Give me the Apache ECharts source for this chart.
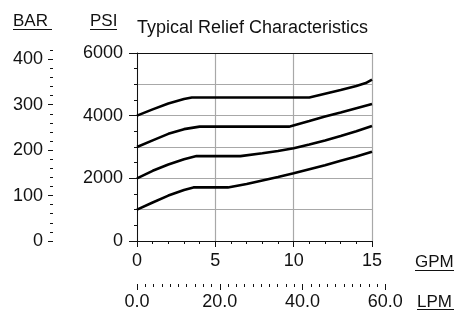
<!DOCTYPE html>
<html>
<head>
<meta charset="utf-8">
<script src="https://cdn.jsdelivr.net/npm/echarts@6/dist/echarts.min.js"></script>
<style>
  html, body { margin: 0; padding: 0; background: #fff; }
  #chart { width: 454px; height: 310px; }
</style>
</head>
<body>
<div id="chart"></div>
<script>
// flow in GPM, pressure in PSI
const curve1Gpm = [0, 1, 2, 3, 3.5, 11, 12, 13, 14, 14.6, 15]
const curve1Psi = [4000, 4200, 4390, 4530, 4580, 4580, 4700, 4820, 4950, 5040, 5150]
const curve2Gpm = [0, 1, 2, 3, 4, 9.7, 11, 12, 13, 14, 15]
const curve2Psi = [3000, 3210, 3420, 3570, 3650, 3650, 3830, 3970, 4100, 4240, 4370]
const curve3Gpm = [0, 1, 2, 3, 3.8, 6.6, 8, 9, 10, 11, 12, 13, 14, 15]
const curve3Psi = [2000, 2240, 2440, 2610, 2710, 2710, 2800, 2870, 2960, 3080, 3210, 3350, 3500, 3670]
const curve4Gpm = [0, 1, 2, 3, 3.6, 5.8, 7, 8, 9, 10, 11, 12, 13, 14, 15]
const curve4Psi = [1000, 1230, 1450, 1630, 1710, 1710, 1820, 1930, 2040, 2160, 2290, 2420, 2560, 2700, 2850]

const gpmMax = 15
const psiMax = 6000
const barTickMax = 420
const barLabelMax = 400
const lpmMax = 60

const PSI_PER_BAR = 14.5038
const LPM_PER_GPM = 3.78541

const FONT = "'Liberation Sans', Arial, sans-serif"
const INK = '#111'

// plot box
const plotLeft = 137, plotTop = 53, plotW = 235, plotH = 188
const plotBottom = plotTop + plotH
const pxPerPsi = plotH / psiMax
const pxPerGpm = plotW / gpmMax

const barMinorH = barTickMax * PSI_PER_BAR * pxPerPsi
const barMajorH = barLabelMax * PSI_PER_BAR * pxPerPsi
const lpmW = lpmMax / LPM_PER_GPM * pxPerGpm

const pairs = (xs, ys) => xs.map((x, i) => [x, ys[i]])
const plain = v => String(v)

const hidden = { show: false }

const curves = [
    pairs(curve1Gpm, curve1Psi),
    pairs(curve2Gpm, curve2Psi),
    pairs(curve3Gpm, curve3Psi),
    pairs(curve4Gpm, curve4Psi)
]

const option = {
    animation: false,
    grid: [
        { left: plotLeft, top: plotTop, width: plotW, height: plotH, outerBoundsMode: 'none' },
        { left: 53, top: plotBottom - barMinorH, width: 10, height: barMinorH, outerBoundsMode: 'none' },
        { left: 53, top: plotBottom - barMajorH, width: 10, height: barMajorH, outerBoundsMode: 'none' },
        { left: plotLeft, top: 279, width: lpmW, height: 5, outerBoundsMode: 'none' }
    ],
    xAxis: [
        {   // GPM
            type: 'value', gridIndex: 0, position: 'bottom', z: 3,
            min: 0, max: gpmMax, interval: 5,
            axisLine: { show: true, onZero: false, lineStyle: { color: INK, width: 1 } },
            axisTick: { show: true, length: 6, lineStyle: { color: INK, width: 1 } },
            minorTick: { show: true, splitNumber: 5, length: 3, lineStyle: { color: INK, width: 1 } },
            axisLabel: { margin: 11, fontSize: 18, color: INK, fontFamily: FONT, formatter: plain },
            splitLine: hidden
        },
        {   // top border
            type: 'value', gridIndex: 0, position: 'top', z: 3,
            min: 0, max: gpmMax,
            axisLine: { show: true, onZero: false, lineStyle: { color: INK, width: 1 } },
            axisTick: hidden, axisLabel: hidden, splitLine: hidden
        },
        {   // vertical grid lines
            type: 'value', gridIndex: 0, position: 'bottom', z: 0,
            min: 0, max: gpmMax, interval: 5,
            axisLine: hidden, axisTick: hidden, axisLabel: hidden,
            splitLine: { show: true, lineStyle: { color: '#a8a8a8', width: 1.2 } }
        },
        { type: 'value', gridIndex: 1, show: false, min: 0, max: 1 },
        { type: 'value', gridIndex: 2, show: false, min: 0, max: 1 },
        {   // LPM
            type: 'value', gridIndex: 3, position: 'bottom',
            min: 0, max: lpmMax, interval: 20,
            axisLine: { show: false, onZero: false },
            axisTick: { show: true, length: 6, lineStyle: { color: INK, width: 1 } },
            minorTick: { show: true, splitNumber: 10, length: 3, lineStyle: { color: INK, width: 1 } },
            axisLabel: { margin: 9, fontSize: 18, color: INK, fontFamily: FONT, formatter: v => v.toFixed(1) },
            splitLine: hidden
        }
    ],
    yAxis: [
        {   // PSI
            type: 'value', gridIndex: 0, position: 'left', z: 3,
            min: 0, max: psiMax, interval: 2000,
            axisLine: { show: true, onZero: false, lineStyle: { color: INK, width: 1 } },
            axisTick: { show: true, length: 8, lineStyle: { color: INK, width: 1 } },
            minorTick: { show: true, splitNumber: 4, length: 3, lineStyle: { color: INK, width: 1 } },
            axisLabel: { margin: 14, fontSize: 18, color: INK, fontFamily: FONT, formatter: plain },
            splitLine: hidden
        },
        {   // horizontal grid lines
            type: 'value', gridIndex: 0, position: 'left', z: 0,
            min: 0, max: psiMax, interval: 1000,
            axisLine: hidden, axisTick: hidden, axisLabel: hidden,
            splitLine: { show: true, lineStyle: { color: '#a8a8a8', width: 1.2 } }
        },
        {   // BAR minor ticks
            type: 'value', gridIndex: 1, position: 'left',
            min: 0, max: barTickMax, interval: 20,
            axisLine: { show: false, onZero: false },
            axisTick: { show: true, length: 3, lineStyle: { color: INK, width: 1 } },
            axisLabel: hidden, splitLine: hidden
        },
        {   // BAR labels
            type: 'value', gridIndex: 2, position: 'left',
            min: 0, max: barLabelMax, interval: 100,
            axisLine: { show: false, onZero: false },
            axisTick: { show: true, length: 5, lineStyle: { color: INK, width: 1 } },
            axisLabel: { margin: 10, fontSize: 18, color: INK, fontFamily: FONT, formatter: plain },
            splitLine: hidden
        },
        { type: 'value', gridIndex: 3, show: false, min: 0, max: 1 }
    ],
    series: curves.map(data => ({
        type: 'line',
        xAxisIndex: 0,
        yAxisIndex: 0,
        data: data,
        symbol: 'none',
        silent: true,
        z: 4,
        lineStyle: { color: '#000', width: 2.6 }
    })),
    graphic: [
        { type: 'text', x: 137, y: 28, z: 10, style: { text: 'Typical Relief Characteristics', font: '18px ' + FONT, fill: INK, verticalAlign: 'middle' } },
        { type: 'text', x: 13, y: 21.5, z: 10, style: { text: 'BAR', font: '17px ' + FONT, fill: INK, verticalAlign: 'middle' } },
        { type: 'line', z: 10, shape: { x1: 13, y1: 29.5, x2: 52, y2: 29.5 }, style: { stroke: INK, lineWidth: 1 } },
        { type: 'text', x: 90, y: 21.5, z: 10, style: { text: 'PSI', font: '17px ' + FONT, fill: INK, verticalAlign: 'middle' } },
        { type: 'line', z: 10, shape: { x1: 90, y1: 29.5, x2: 117, y2: 29.5 }, style: { stroke: INK, lineWidth: 1 } },
        { type: 'text', x: 415, y: 262.5, z: 10, style: { text: 'GPM', font: '17px ' + FONT, fill: INK, verticalAlign: 'middle' } },
        { type: 'line', z: 10, shape: { x1: 415, y1: 270.5, x2: 454, y2: 270.5 }, style: { stroke: INK, lineWidth: 1 } },
        { type: 'text', x: 417, y: 302.5, z: 10, style: { text: 'LPM', font: '17px ' + FONT, fill: INK, verticalAlign: 'middle' } },
        { type: 'line', z: 10, shape: { x1: 417, y1: 309.5, x2: 454, y2: 309.5 }, style: { stroke: INK, lineWidth: 1 } }
    ]
}

const myChart = echarts.init(document.getElementById('chart'), null, { renderer: 'canvas' })
myChart.setOption(option)
</script>
</body>
</html>
